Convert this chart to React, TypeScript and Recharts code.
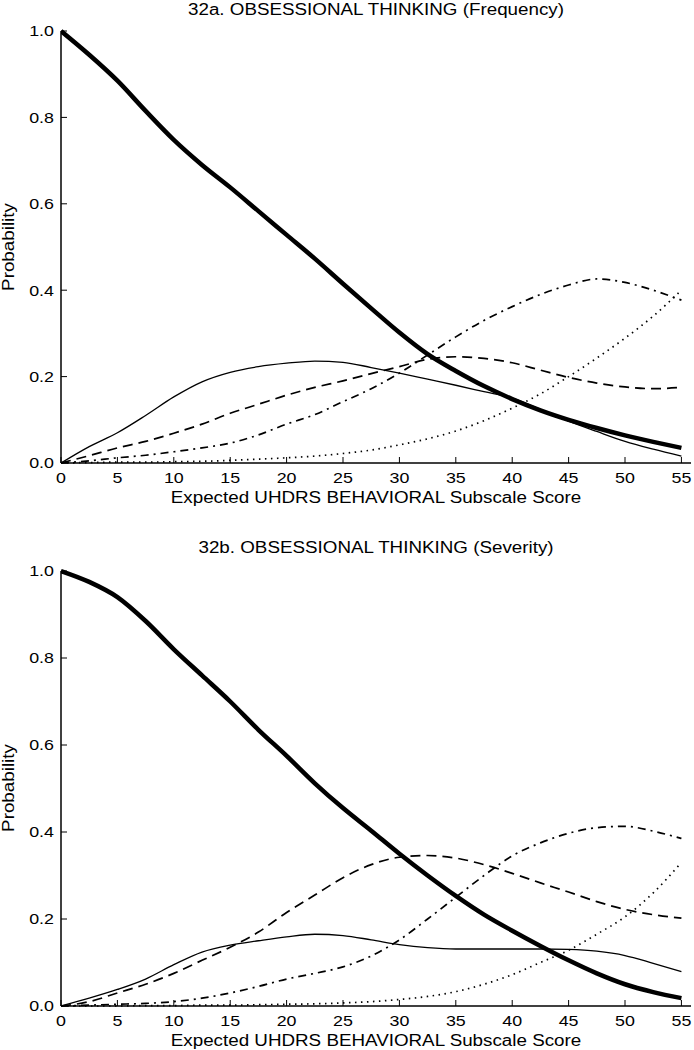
import React from 'react';
import { LineChart, Line, XAxis, YAxis } from 'recharts';

const scores = [0, 2.5, 5, 7.5, 10, 12.5, 15, 17.5, 20, 22.5, 25, 27.5, 30, 32.5, 35, 37.5, 40, 42.5, 45, 47.5, 50, 52.5, 55];
const xTicks = [0, 5, 10, 15, 20, 25, 30, 35, 40, 45, 50, 55];
const yTicks = [0, 0.2, 0.4, 0.6, 0.8, 1.0];

// 32a. Frequency
const freqLevel0 = [1.0, 0.945, 0.885, 0.815, 0.748, 0.69, 0.638, 0.583, 0.528, 0.473, 0.415, 0.358, 0.302, 0.252, 0.213, 0.178, 0.148, 0.122, 0.1, 0.081, 0.064, 0.049, 0.035];
const freqLevel1 = [0, 0.038, 0.07, 0.11, 0.153, 0.188, 0.21, 0.223, 0.231, 0.236, 0.233, 0.221, 0.208, 0.194, 0.18, 0.165, 0.15, 0.124, 0.097, 0.073, 0.05, 0.032, 0.016];
const freqLevel2 = [0, 0.017, 0.035, 0.05, 0.069, 0.09, 0.115, 0.136, 0.157, 0.175, 0.19, 0.207, 0.223, 0.24, 0.246, 0.242, 0.232, 0.215, 0.198, 0.185, 0.176, 0.172, 0.175];
const freqLevel3 = [0, 0.005, 0.012, 0.018, 0.026, 0.035, 0.046, 0.065, 0.09, 0.112, 0.142, 0.172, 0.208, 0.25, 0.292, 0.33, 0.362, 0.39, 0.412, 0.426, 0.418, 0.4, 0.377];
const freqLevel4 = [0, 0.001, 0.002, 0.002, 0.003, 0.004, 0.006, 0.009, 0.012, 0.016, 0.022, 0.03, 0.042, 0.056, 0.074, 0.098, 0.127, 0.16, 0.2, 0.243, 0.289, 0.34, 0.4];

// 32b. Severity
const sevLevel0 = [1.0, 0.975, 0.94, 0.885, 0.82, 0.76, 0.7, 0.635, 0.575, 0.512, 0.455, 0.403, 0.35, 0.3, 0.253, 0.21, 0.173, 0.138, 0.105, 0.075, 0.05, 0.032, 0.018];
const sevLevel1 = [0, 0.018, 0.038, 0.062, 0.095, 0.124, 0.14, 0.15, 0.159, 0.165, 0.162, 0.152, 0.141, 0.134, 0.131, 0.131, 0.131, 0.131, 0.13, 0.126, 0.116, 0.098, 0.079];
const sevLevel2 = [0, 0.01, 0.03, 0.05, 0.075, 0.105, 0.135, 0.17, 0.215, 0.255, 0.295, 0.325, 0.342, 0.346, 0.34, 0.325, 0.305, 0.283, 0.262, 0.24, 0.222, 0.21, 0.202];
const sevLevel3 = [0, 0.002, 0.004, 0.006, 0.01, 0.018, 0.03, 0.045, 0.062, 0.075, 0.09, 0.115, 0.152, 0.2, 0.25, 0.3, 0.345, 0.375, 0.397, 0.41, 0.413, 0.402, 0.385];
const sevLevel4 = [0, 0, 0, 0.001, 0.001, 0.002, 0.002, 0.003, 0.004, 0.005, 0.007, 0.01, 0.015, 0.022, 0.033, 0.05, 0.072, 0.1, 0.128, 0.165, 0.205, 0.26, 0.33];

const titleA = '32a. OBSESSIONAL THINKING (Frequency)';
const titleB = '32b. OBSESSIONAL THINKING (Severity)';
const xLabel = 'Expected UHDRS BEHAVIORAL Subscale Score';
const yLabel = 'Probability';

const FONT = '"Liberation Sans", Arial, Helvetica, sans-serif';
const SX = 1.19;
const TICK_FS = 15;
const LABEL_FS = 15.8;

const buildRows = (levels: number[][]) =>
  scores.map((x, i) => ({ x, l0: levels[0][i], l1: levels[1][i], l2: levels[2][i], l3: levels[3][i], l4: levels[4][i] }));

const XTick = (props: any) => {
  const { x, y, payload } = props;
  return (
    <g transform={`translate(${x},${y})`}>
      <text transform={`scale(${SX},1)`} textAnchor="middle" dy="0.71em" fontSize={TICK_FS} fontFamily={FONT} fill="#000">
        {payload.value}
      </text>
    </g>
  );
};

const YTick = (props: any) => {
  const { x, y, payload } = props;
  return (
    <g transform={`translate(${x},${y})`}>
      <text transform={`scale(${SX},1)`} textAnchor="end" dy="0.36em" fontSize={TICK_FS} fontFamily={FONT} fill="#000">
        {Number(payload.value).toFixed(1)}
      </text>
    </g>
  );
};

const series = [
  { key: 'l0', width: 4.5, dash: undefined },
  { key: 'l1', width: 1.3, dash: undefined },
  { key: 'l2', width: 1.7, dash: '10 6' },
  { key: 'l3', width: 1.7, dash: '8 5 2 5' },
  { key: 'l4', width: 1.7, dash: '1.5 4.5' },
];

const Panel = ({ rows, height, xAxisHeight }: { rows: any[]; height: number; xAxisHeight: number }) => (
  <LineChart width={694} height={height} data={rows} margin={{ top: 31, right: 3, left: 0, bottom: 0 }}>
    <XAxis
      xAxisId="b"
      dataKey="x"
      type="number"
      domain={[0, 55.85]}
      ticks={xTicks}
      allowDataOverflow
      orientation="bottom"
      height={xAxisHeight}
      tickSize={-6}
      tickMargin={15}
      tick={<XTick />}
      axisLine={{ stroke: '#000', strokeWidth: 1.5 }}
      tickLine={{ stroke: '#000', strokeWidth: 1 }}
    />
    <XAxis
      xAxisId="t"
      dataKey="x"
      type="number"
      domain={[0, 55.85]}
      ticks={xTicks}
      allowDataOverflow
      orientation="top"
      height={0}
      tickSize={-6}
      tickFormatter={() => ''}
      axisLine={{ stroke: '#000', strokeWidth: 1.5 }}
      tickLine={{ stroke: '#000', strokeWidth: 1 }}
    />
    <YAxis
      yAxisId="l"
      type="number"
      domain={[0, 1]}
      ticks={yTicks}
      orientation="left"
      width={61}
      tickSize={-6}
      tickMargin={13}
      tick={<YTick />}
      axisLine={{ stroke: '#000', strokeWidth: 1.5 }}
      tickLine={{ stroke: '#000', strokeWidth: 1 }}
    />
    <YAxis
      yAxisId="r"
      type="number"
      domain={[0, 1]}
      ticks={yTicks}
      orientation="right"
      width={0}
      tickSize={-6}
      tickFormatter={() => ''}
      axisLine={{ stroke: '#000', strokeWidth: 1.5 }}
      tickLine={{ stroke: '#000', strokeWidth: 1 }}
    />
    {series.map((s) => (
      <Line
        key={s.key}
        xAxisId="b"
        yAxisId="l"
        dataKey={s.key}
        type="monotone"
        stroke="#000"
        strokeWidth={s.width}
        strokeDasharray={s.dash}
        dot={false}
        activeDot={false}
        isAnimationActive={false}
      />
    ))}
  </LineChart>
);

const Texts = () => (
  <svg width={694} height={1050} style={{ position: 'absolute', left: 0, top: 0 }}>
    <g fontFamily={FONT} fill="#000" fontSize={LABEL_FS}>
      <g transform={`translate(376,15) scale(${SX},1)`}>
        <text textAnchor="middle">{titleA}</text>
      </g>
      <g transform={`translate(376,503) scale(${SX},1)`}>
        <text textAnchor="middle">{xLabel}</text>
      </g>
      <g transform={`translate(14,247) rotate(-90) scale(${SX},1)`}>
        <text textAnchor="middle">{yLabel}</text>
      </g>
      <g transform={`translate(376,553) scale(${SX},1)`}>
        <text textAnchor="middle">{titleB}</text>
      </g>
      <g transform={`translate(376,1046) scale(${SX},1)`}>
        <text textAnchor="middle">{xLabel}</text>
      </g>
      <g transform={`translate(14,788) rotate(-90) scale(${SX},1)`}>
        <text textAnchor="middle">{yLabel}</text>
      </g>
    </g>
  </svg>
);

export default function App() {
  const rowsA = buildRows([freqLevel0, freqLevel1, freqLevel2, freqLevel3, freqLevel4]);
  const rowsB = buildRows([sevLevel0, sevLevel1, sevLevel2, sevLevel3, sevLevel4]);
  return (
    <div style={{ position: 'absolute', left: 0, top: 0, width: 694, height: 1050, background: '#fff' }}>
      <Texts />
      <div style={{ position: 'absolute', left: 0, top: 0 }}>
        <Panel rows={rowsA} height={520} xAxisHeight={57} />
      </div>
      <div style={{ position: 'absolute', left: 0, top: 540 }}>
        <Panel rows={rowsB} height={510} xAxisHeight={44} />
      </div>
    </div>
  );
}
